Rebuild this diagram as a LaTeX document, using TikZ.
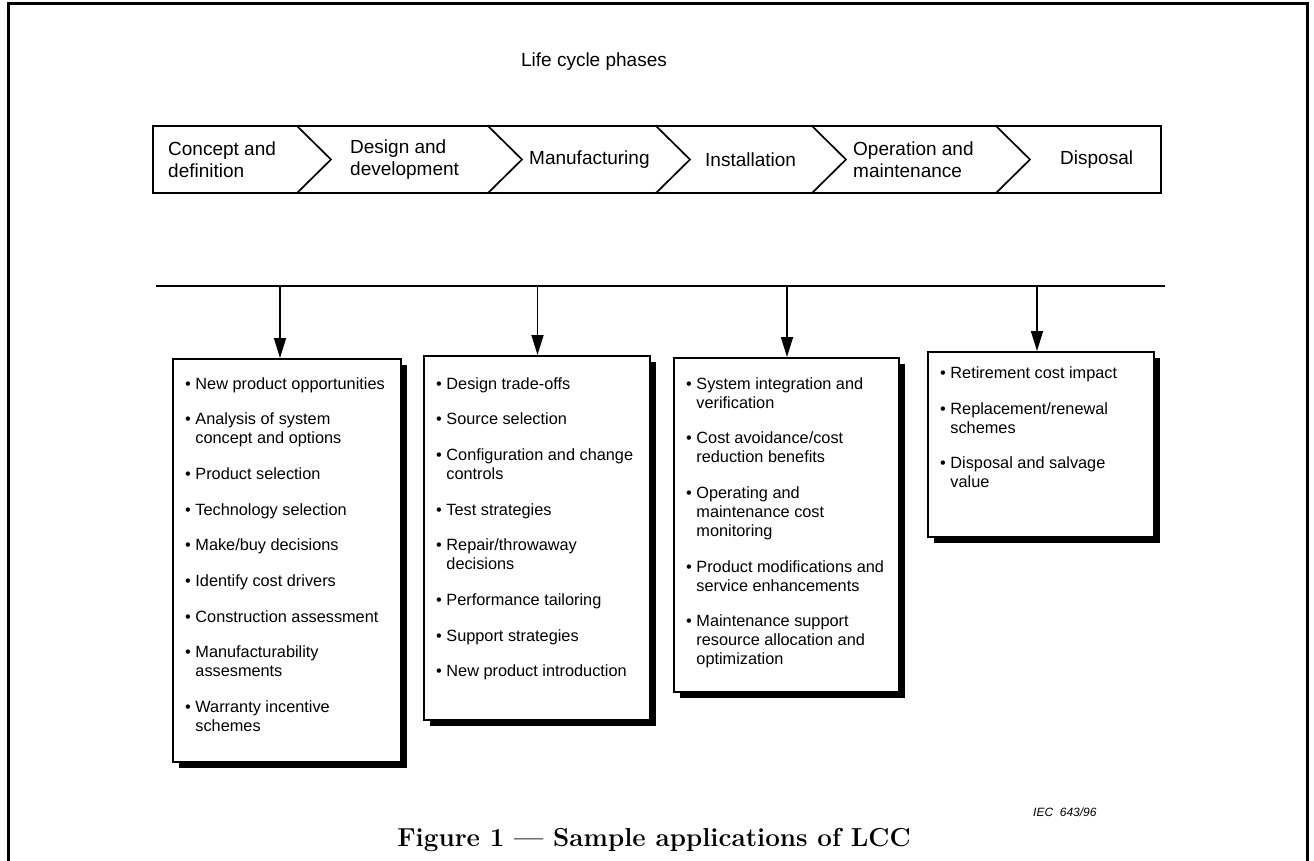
\documentclass[tikz,border=0pt]{standalone}
\usepackage{fontspec}
\newfontfamily\arialf{Liberation Sans}
\usetikzlibrary{arrows.meta,shadows}
\begin{document}
\begin{tikzpicture}[x=1pt,y=-1pt,
  frame/.style={line width=3pt},
  band/.style={line width=1.7pt, line join=miter},
  phase/.style={font=\arialf\fontsize{19}{22.5}\selectfont, align=left, inner sep=0pt, anchor=west},
  itembox/.style={draw, line width=1.7pt, fill=white, anchor=north west, inner sep=0pt,
    drop shadow={shadow xshift=6pt, shadow yshift=-6pt, fill=black, opacity=1}},
  itemtext/.style={font=\arialf\fontsize{16.3}{19}\selectfont, align=left, inner sep=0pt, anchor=north west},
  conn/.style={line width=1.7pt, -{Triangle[length=20pt,width=12pt]}},
]
\useasboundingbox (0,0) rectangle (1314,860);
\newcommand\bl{\textbullet\ }
\newcommand\ind{\phantom{\textbullet\ }}
% outer frame (open at bottom)
\draw[frame] (8,866) -- (8,3) -- (1307,3) -- (1307,866);
% title
\node[font=\arialf\fontsize{19}{23}\selectfont] (title) at (594,62) {Life cycle phases};
% phase band
\draw[band] (153,126) rectangle (1161,193);
\foreach \x in {297,488,656,812,996}
  \draw[band] (\x,126) -- (\x+34,159.5) -- (\x,193);
\node[phase] (p1) at (168,159.5) {Concept and\\definition};
\node[phase] (p2) at (350,159.5) {Design and\\development};
\node[phase] (p3) at (529,159.5) {Manufacturing};
\node[phase] (p4) at (705,159.5) {Installation};
\node[phase] (p5) at (853,159.5) {Operation and\\maintenance};
\node[phase] (p6) at (1060,159.5) {Disposal};
% distribution line
\coordinate (l0) at (156,286);
\coordinate (l5) at (1165,286);
\draw[line width=1.7pt] (l0) -- (l5);
\coordinate (h1) at (280,286);
\coordinate (h2) at (537.5,286);
\coordinate (h3) at (787,286);
\coordinate (h4) at (1037,286);
% boxes
\node[itembox, minimum width=228pt, minimum height=403pt] (b1) at (172,358) {};
\node[itembox, minimum width=226pt, minimum height=364pt] (b2) at (423,355) {};
\node[itembox, minimum width=225pt, minimum height=334pt] (b3) at (673,357) {};
\node[itembox, minimum width=226pt, minimum height=185pt] (b4) at (927,351) {};
% arrows
\draw[conn] (h1) -- (h1 |- b1.north);
\draw[conn] (h2) -- (h2 |- b2.north);
\draw[conn] (h3) -- (h3 |- b3.north);
\draw[conn] (h4) -- (h4 |- b4.north);
% box texts
\node[itemtext] (t1) at (185,377) {\bl New product opportunities\\[16.7pt]
\bl Analysis of system\\ \ind concept and options\\[16.7pt]
\bl Product selection\\[16.7pt]
\bl Technology selection\\[16.7pt]
\bl Make/buy decisions\\[16.7pt]
\bl Identify cost drivers\\[16.7pt]
\bl Construction assessment\\[16.7pt]
\bl Manufacturability\\ \ind assesments\\[16.7pt]
\bl Warranty incentive\\ \ind schemes};
\node[itemtext] (t2) at (436,377) {\bl Design trade-offs\\[16.7pt]
\bl Source selection\\[16.7pt]
\bl Configuration and change\\ \ind controls\\[16.7pt]
\bl Test strategies\\[16.7pt]
\bl Repair/throwaway\\ \ind decisions\\[16.7pt]
\bl Performance tailoring\\[16.7pt]
\bl Support strategies\\[16.7pt]
\bl New product introduction};
\node[itemtext] (t3) at (686,377) {\bl System integration and\\ \ind verification\\[16.7pt]
\bl Cost avoidance/cost\\ \ind reduction benefits\\[16.7pt]
\bl Operating and\\ \ind maintenance cost\\ \ind monitoring\\[16.7pt]
\bl Product modifications and\\ \ind service enhancements\\[16.7pt]
\bl Maintenance support\\ \ind resource allocation and\\ \ind optimization};
\node[itemtext] (t4) at (940,366.5) {\bl Retirement cost impact\\[16.7pt]
\bl Replacement/renewal\\ \ind schemes\\[16.7pt]
\bl Disposal and salvage\\ \ind value};
% reference number and caption
\node[font=\arialf\itshape\fontsize{12}{14}\selectfont, anchor=west, inner sep=0pt] (iec) at (1033,812) {IEC\ \ 643/96};
\node[font=\bfseries\fontsize{26}{30}\selectfont, inner sep=0pt] (cap) at (654,840) {Figure 1 --- Sample applications of LCC};
\end{tikzpicture}
\end{document}
